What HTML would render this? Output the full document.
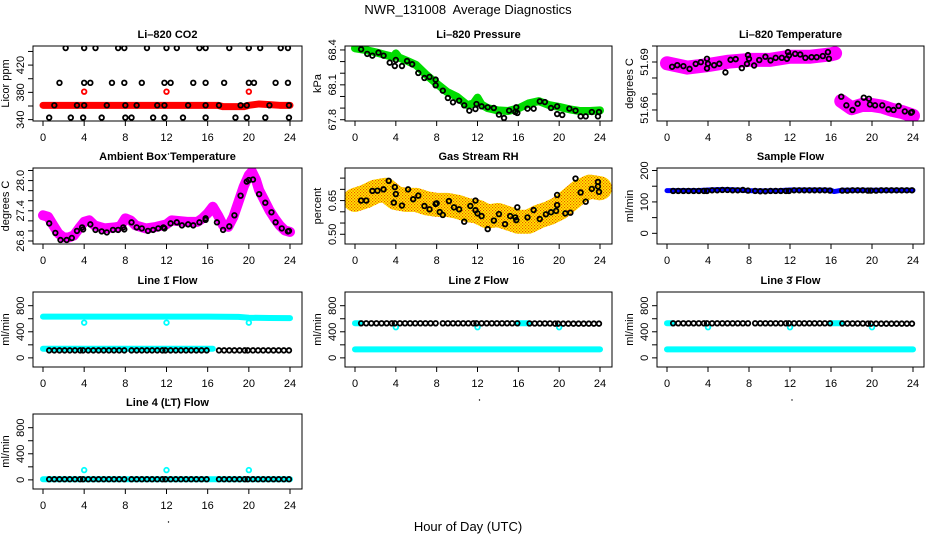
<!DOCTYPE html>
<html><head><meta charset="utf-8"><style>
html,body{margin:0;padding:0;background:#fff}
svg{display:block;font-family:"Liberation Sans",Arial,sans-serif}
</style></head><body>
<svg id="chart" width="936" height="540" viewBox="0 0 936 540" xmlns="http://www.w3.org/2000/svg">
<defs>
<pattern id="rhpat" width="3" height="3" patternUnits="userSpaceOnUse">
<rect width="3" height="3" fill="#ffee00"/>
<rect x="0" y="0" width="1.2" height="1.2" fill="#f05000"/>
<rect x="1.5" y="1.5" width="1.2" height="1.2" fill="#f05000"/>
</pattern>
</defs>
<text x="468" y="14" text-anchor="middle" font-size="13">NWR_131008&#160; Average Diagnostics</text>
<text x="468" y="531" text-anchor="middle" font-size="13">Hour of Day (UTC)</text>
</svg>
<script>
// ---------- data ----------
const hourTicks=[0,4,8,12,16,20,24];
// CO2
const co2BlackT=[2.2,4,5.1,7.3,7.9,10.1,12,13,15.2,15.8,18.1,20,21.1,23.1,23.8, 1.6,4,4.6,6.7,7.9,9.6,11.8,12.4,14.6,15.8,17.6,20,20.5,22.6,23.8, 1.1,3.3,4,6.2,8,9.1,11.1,11.8,14.1,15.8,17.1,19.2,19.8,22,23.9, 0.6,2.7,3.9,5.7,8,8.6,10.7,11.8,13.6,15.8,18.7,19.8,21.6,23.9];
const co2BlackV=[445,445,445,445,445,445,445,445,445,445,445,445,445,445,445, 394,394,394,394,394,394,394,394,394,394,394,394,394,394,394, 361,361,361,361,361,361,361,361,361,361,361,361,361,361,361, 343,343,343,343,343,343,343,343,343,343,343,343,343,343];
const co2RedT=[0,2,4,6,8,10,12,14,16,17,17.5,18.5,19.5,20,21,22,23,24];
const co2RedV=[361,361,361,361,361,361,361,361,361,361,359,359,359,361,363,362,361,361];
const co2RedCircT=[4,12,20];
const co2RedCircV=[381,381,381];
// Pressure
const presGreenT=[0,1,2,3,3.8,4,4.3,5,6,7,8,9,10,11,11.6,12,12.4,13,14,15,16,17,18,19,20,21,22,23,24];
const presGreenV=[68.414,68.40,68.38,68.357,68.34,68.37,68.335,68.31,68.27,68.185,68.11,68.04,67.997,67.926,67.94,67.99,67.93,67.90,67.88,67.875,67.897,67.94,67.96,67.926,67.91,67.89,67.875,67.875,67.88];
const presBlackT=[0.6,1.2,1.7,2.3,2.8,3.4,3.9,4,4.6,5.1,5.6,6.2,6.8,7.3,7.9,7.9,8.6,9.1,9.6,10.2,10.7,11.2,11.8,11.9,12.4,13,13.6,14.1,14.6,15.1,15.7,15.8,15.9,16.9,17.5,18.1,18.6,19.2,19.8,19.8,20.3,21,21.6,22.1,22.6,23.2,23.8,23.9];
const presBlackV=[68.406,68.366,68.351,68.377,68.351,68.291,68.262,68.314,68.262,68.305,68.277,68.202,68.159,68.168,68.145,68.096,68.050,67.987,67.950,67.964,67.924,67.878,67.892,67.935,67.915,67.907,67.901,67.844,67.815,67.878,67.867,67.907,67.858,67.895,67.895,67.958,67.952,67.901,67.849,67.915,67.841,67.895,67.878,67.829,67.829,67.866,67.829,67.866];
// Li-820 temperature
const tempBandT1=[0,2,4,6,8,10,12,14,16,16.4];
const tempBandV1=[51.6892,51.6865,51.6881,51.6902,51.6913,51.6913,51.6933,51.6933,51.6948,51.6954];
const tempBandT2=[17,18,19,20,21,22,23,24];
const tempBandV2=[51.6656,51.6611,51.6631,51.6631,51.6621,51.6600,51.6586,51.6564];
const tempBlackT=[0.5,1,1.6,2.2,2.8,3.3,3.9,3.9,4,4.6,5.1,5.7,6.2,6.7,7.3,7.8,7.9,8,8.5,9,9.6,10.1,10.6,11.2,11.7,11.8,11.9,12.5,13,13.5,14.1,14.6,15.2,15.7,15.8,17,17.5,18.1,18.6,19.2,19.7,19.8,20.3,21,21.6,22.1,22.6,23.2,23.8,23.9];
const tempBlackV=[51.6870,51.6880,51.6874,51.6857,51.6888,51.6899,51.6920,51.6860,51.6889,51.6880,51.6889,51.6835,51.6914,51.6918,51.6862,51.6888,51.6943,51.6920,51.6878,51.6912,51.6933,51.6910,51.6926,51.6926,51.6920,51.6962,51.6941,51.6951,51.6947,51.6926,51.6930,51.6930,51.6937,51.6962,51.6920,51.6683,51.6629,51.6600,51.6639,51.6677,51.6670,51.6635,51.6629,51.6629,51.6604,51.6600,51.6625,51.6591,51.6583,51.6587];
// Ambient box temperature
const ambT=[0,0.5,1,1.5,2,2.5,3,3.5,4,4.5,5,6,7,7.5,8,8.5,9,10,11,12,12.5,13,14,15,15.5,16,16.5,17,17.5,18,18.5,19,19.5,20,20.3,20.7,21,21.5,22,22.5,23,23.5,24];
const ambV=[27.31,27.28,27.11,26.95,26.87,26.87,26.91,27.05,27.18,27.21,27.11,27.05,27.07,27.09,27.25,27.21,27.11,27.05,27.08,27.13,27.21,27.20,27.18,27.18,27.25,27.35,27.48,27.31,27.11,27.08,27.28,27.58,27.88,28.11,28.18,28.01,27.81,27.61,27.41,27.25,27.11,27.01,26.98];
const ambBlackT=[0.6,1.2,1.7,2.3,2.8,3.3,3.8,3.9,4.6,5.1,5.7,6.2,6.8,7.3,7.8,7.9,8.6,9.1,9.6,10.2,10.7,11.2,11.7,11.8,12.4,13,13.5,14.1,14.6,15.2,15.8,15.8,16.9,17.5,18.1,18.6,19.2,19.8,20,20.4,21,21.6,22.2,22.6,23.2,23.8,23.9];
const ambBlackV=[27.15,26.96,26.82,26.82,26.86,27.00,27.07,27.03,27.13,27.02,26.99,26.97,27.02,27.02,27.07,27.03,27.17,27.07,27.05,27.00,27.02,27.05,27.07,27.05,27.15,27.17,27.11,27.13,27.11,27.17,27.25,27.22,27.17,27.02,27.09,27.31,27.70,27.98,28.01,28.02,27.73,27.56,27.37,27.17,27.05,26.99,27.00];
// Gas stream RH
const rhT=[0,1,2,3,4,5,6,7,8,9,10,11,12,13,14,15,16,17,18,19,20,21,22,23,24];
const rhV=[0.653,0.668,0.690,0.698,0.661,0.653,0.653,0.638,0.631,0.631,0.623,0.608,0.601,0.579,0.586,0.571,0.556,0.556,0.579,0.594,0.616,0.653,0.690,0.712,0.705];
const rhBlackT=[0.6,1.1,1.7,2.2,2.8,3.3,3.8,3.9,4,4.6,5.2,5.7,6.2,6.8,7.3,7.9,8,8.3,8.6,9.2,9.7,10.2,10.7,11.3,11.8,11.8,12,12.4,13,13.6,14.1,14.7,15.2,15.7,15.8,15.9,16.9,17.5,18.1,18.7,19.2,19.7,19.8,19.8,20.6,21.1,21.6,22.1,22.6,23.2,23.8,23.9,23.8];
const rhBlackV=[0.650,0.650,0.693,0.694,0.700,0.738,0.641,0.710,0.679,0.628,0.700,0.656,0.672,0.626,0.611,0.635,0.638,0.599,0.586,0.648,0.620,0.611,0.556,0.626,0.650,0.607,0.593,0.581,0.523,0.561,0.590,0.545,0.581,0.575,0.563,0.620,0.575,0.608,0.568,0.589,0.598,0.604,0.675,0.630,0.593,0.596,0.748,0.686,0.645,0.702,0.733,0.689,0.713];
// Sample flow
const sampBlueT=[0,1,2,3,4,5,6,7,8,9,10,11,12,13,14,15,16,16.3,17,18,19,20,21,22,23,24];
const sampBlueV=[136,136,136,136,138,139,139,138,136,135,135,136,138,138,138,138,137,133,137,137,137,137,137,137,137,137];
// Flow panels: shared black sample times
const flowT=[0.6,1.1,1.6,2.1,2.6,3.1,3.6,3.9,4.4,4.9,5.4,5.9,6.4,6.9,7.4,7.9,8.6,9.1,9.6,10.1,10.6,11.1,11.6,11.9,12.4,12.9,13.4,13.9,14.4,14.9,15.4,15.9,17.1,17.6,18.1,18.6,19.1,19.6,19.9,20.4,20.9,21.4,21.9,22.4,22.9,23.4,23.9];
const sampBlackV=[135,135,135,135,135,135,135,135,137,137,138,138,137,137,138,136,135,134,134,135,135,135,135,135,137,137,137,137,137,137,137,136,136,136,137,137,137,136,136,136,137,137,137,137,137,137,137];
const line1BlackV=[115,115,115,115,115,115,115,115,115,115,115,115,115,115,115,115,115,115,115,115,115,115,115,115,115,115,115,115,115,115,115,115,115,115,115,115,115,115,115,115,115,115,115,115,115,115,115];
const line2BlackV=[530,530,530,530,530,530,530,530,530,530,530,530,530,530,530,530,530,530,530,530,530,530,530,530,530,530,530,530,530,530,530,530,528,528,528,528,528,525,525,525,525,525,525,525,525,525,525];
const line3BlackV=[530,530,530,530,530,530,530,530,530,530,530,530,530,530,530,530,530,530,530,530,530,530,530,530,530,530,530,530,530,530,530,530,528,528,528,528,528,525,525,525,525,525,525,525,525,525,525];
const line4BlackV=[10,10,10,10,10,10,10,10,10,10,10,10,10,10,10,10,10,10,10,10,10,10,10,10,10,10,10,10,10,10,10,10,10,10,10,10,10,10,10,10,10,10,10,10,10,10,10];
const line1CyanHiT=[0,4,8,12,16,19,20,22,24];
const line1CyanHiV=[632,632,632,632,632,628,615,612,610];
const line1CyanLoT=[0,4,8,12,16,16.5];
const line1CyanLoV=[140,140,140,140,140,140];
const line23CyanHiT=[0,0.5];
const line23CyanHiV=[530,530];
const line23CyanGapT=[16,17];
const line23CyanGapV=[530,530];
const line23CyanLoT=[0,4,8,12,16,20,24];
const line23CyanLoV=[130,130,130,130,130,130,130];
const line4CyanT=[0,4,8,12,16,20,24];
const line4CyanV=[10,10,10,10,10,10,10];
const cycT=[4,12,20];
const line1CycV=[540,540,540];
const line2CycV=[470,470,470];
const line3CycV=[470,470,470];
const line4CycV=[150,150,150];

// ---------- geometry ----------
const NS='http://www.w3.org/2000/svg';
const svg=document.getElementById('chart');
const boxL=[33,345,657], boxR=[302,612,924];
const x0=[43,355,667], x24=[290,600,913];
const boxT=[46,168,292,414], boxB=[121,244,367,489];
function mk(tag,parent){const e=document.createElementNS(NS,tag);parent.appendChild(e);return e;}

function panel(c,r,name,title,ylab,dom,ticks,labels){
  const g=mk('g',svg);
  
  
  const X=t=>x0[c]+(x24[c]-x0[c])*t/24;
  const Y=v=>boxB[r]-(v-dom[0])/(dom[1]-dom[0])*(boxB[r]-boxT[r]);
  const clipId='clip'+c+r;
  const cp=mk('clipPath',g); cp.setAttribute('id',clipId);
  const cr=mk('rect',cp); cr.setAttribute('x',boxL[c]);cr.setAttribute('y',boxT[r]);cr.setAttribute('width',boxR[c]-boxL[c]);cr.setAttribute('height',boxB[r]-boxT[r]);
  const plot=mk('g',g); plot.setAttribute('clip-path','url(#'+clipId+')');
  
  
  const box=mk('rect',g);
  box.setAttribute('x',boxL[c]);box.setAttribute('y',boxT[r]);box.setAttribute('width',boxR[c]-boxL[c]);box.setAttribute('height',boxB[r]-boxT[r]);
  box.setAttribute('fill','none');box.setAttribute('stroke','#000');box.setAttribute('stroke-width','1');
  
  
  const tt=mk('text',g); tt.textContent=title;
  tt.setAttribute('x',(boxL[c]+boxR[c])/2);tt.setAttribute('y',boxT[r]-8);tt.setAttribute('text-anchor','middle');tt.setAttribute('font-size','11');tt.setAttribute('font-weight','bold');
  
  
  hourTicks.forEach(h=>{
    const l=mk('line',g); l.setAttribute('x1',X(h));l.setAttribute('x2',X(h));l.setAttribute('y1',boxB[r]);l.setAttribute('y2',boxB[r]+5);l.setAttribute('stroke','#000');
    
    
    const t=mk('text',g); t.textContent=h; t.setAttribute('x',X(h));t.setAttribute('y',boxB[r]+20);t.setAttribute('text-anchor','middle');t.setAttribute('font-size','11');
    
    
  });
  const dot=mk('circle',g); dot.setAttribute('cx',(x0[c]+x24[c])/2+2);dot.setAttribute('cy',boxB[r]+33);dot.setAttribute('r','0.7');dot.setAttribute('fill','#000');
  
  
  ticks.forEach(v=>{
    const l=mk('line',g); l.setAttribute('x1',boxL[c]-5);l.setAttribute('x2',boxL[c]);l.setAttribute('y1',Y(v));l.setAttribute('y2',Y(v));l.setAttribute('stroke','#000');
    
    
  });
  labels.forEach(v=>{
    const t=mk('text',g); t.textContent=v;
    const lx=boxL[c]-9, ly=Y(parseFloat(v));
    t.setAttribute('x',lx);t.setAttribute('y',ly);t.setAttribute('text-anchor','middle');t.setAttribute('font-size','11');
    t.setAttribute('transform','rotate(-90 '+lx+' '+ly+')');
    
    
  });
  const yl=mk('text',g); yl.textContent=ylab;
  const yx=boxL[c]-24, yy=(boxT[r]+boxB[r])/2;
  yl.setAttribute('x',yx);yl.setAttribute('y',yy);yl.setAttribute('text-anchor','middle');yl.setAttribute('font-size','11');
  yl.setAttribute('transform','rotate(-90 '+yx+' '+yy+')');
  
  
  return {plot,X,Y,name};
}
function band(p,T,V,color,w){
  const pl=mk('polyline',p.plot);
  pl.setAttribute('points',T.map((t,i)=>p.X(t)+','+p.Y(V[i])).join(' '));
  pl.setAttribute('fill','none');pl.setAttribute('stroke',color);pl.setAttribute('stroke-width',w);
  pl.setAttribute('stroke-linecap','round');pl.setAttribute('stroke-linejoin','round');
  
  
}
function pts(p,T,V,color,r,sw){
  T.forEach((t,i)=>{
    const c=mk('circle',p.plot);
    c.setAttribute('cx',p.X(t));c.setAttribute('cy',p.Y(V[i]));c.setAttribute('r',r);
    c.setAttribute('fill','none');c.setAttribute('stroke',color);c.setAttribute('stroke-width',sw);
    
    
  });
}
const flowTicks=[0,200,400,600,800], flowLabels=['0','400','800'], flowDom=[-140,1010];

let p=panel(0,0,'co2','Li\u2013820 CO2','Licor ppm',[338,448],[340,360,380,400,420,440],['340','380','420']);
band(p,co2RedT,co2RedV,'#ff0000',7);
pts(p,co2RedCircT,co2RedCircV,'#ff0000',2.3,1.8);
pts(p,co2BlackT,co2BlackV,'#000',2.3,1.8);

p=panel(1,0,'pressure','Li\u2013820 Pressure','kPa',[67.789,68.434],[67.8,67.9,68.0,68.1,68.2,68.3,68.4],['67.8','68.1','68.4']);
band(p,presGreenT,presGreenV,'#00dd00',8);
pts(p,presBlackT,presBlackV,'#000',2.3,1.8);

p=panel(2,0,'li820-temperature','Li\u2013820 Temperature','degrees C',[51.6531,51.700],[51.66,51.67,51.68,51.69,51.70],['51.66','51.69']);
band(p,tempBandT1,tempBandV1,'#ff00ff',14);
band(p,tempBandT2,tempBandV2,'#ff00ff',14);
pts(p,tempBlackT,tempBlackV,'#000',2.3,1.8);

p=panel(0,1,'ambient-temperature','Ambient Box Temperature','degrees C',[26.74,28.25],[26.8,27.0,27.2,27.4,27.6,27.8,28.0,28.2],['26.8','27.4','28.0']);
band(p,ambT,ambV,'#ff00ff',10);
pts(p,ambBlackT,ambBlackV,'#000',2.3,1.8);

p=panel(1,1,'gas-rh','Gas Stream RH','percent',[0.4567,0.795],[0.50,0.55,0.60,0.65,0.70,0.75],['0.50','0.65']);
band(p,rhT,rhV,'url(#rhpat)',24);
pts(p,rhBlackT,rhBlackV,'#000',2.3,1.8);

p=panel(2,1,'sample-flow','Sample Flow','ml/min',[-34,208],[0,50,100,150,200],['0','100','200']);
band(p,sampBlueT,sampBlueV,'#0000ff',5);
pts(p,flowT,sampBlackV,'#000',2.3,1.8);

p=panel(0,2,'line1-flow','Line 1 Flow','ml/min',flowDom,flowTicks,flowLabels);
band(p,line1CyanHiT,line1CyanHiV,'#00ffff',6);
band(p,line1CyanLoT,line1CyanLoV,'#00ffff',6);
pts(p,cycT,line1CycV,'#00ffff',2.3,1.8);
pts(p,flowT,line1BlackV,'#000',2.3,1.8);

p=panel(1,2,'line2-flow','Line 2 Flow','ml/min',flowDom,flowTicks,flowLabels);
band(p,line23CyanHiT,line23CyanHiV,'#00ffff',6);
band(p,line23CyanGapT,line23CyanGapV,'#00ffff',6);
band(p,line23CyanLoT,line23CyanLoV,'#00ffff',6);
pts(p,cycT,line2CycV,'#00ffff',2.3,1.8);
pts(p,flowT,line2BlackV,'#000',2.3,1.8);

p=panel(2,2,'line3-flow','Line 3 Flow','ml/min',flowDom,flowTicks,flowLabels);
band(p,line23CyanHiT,line23CyanHiV,'#00ffff',6);
band(p,line23CyanGapT,line23CyanGapV,'#00ffff',6);
band(p,line23CyanLoT,line23CyanLoV,'#00ffff',6);
pts(p,cycT,line3CycV,'#00ffff',2.3,1.8);
pts(p,flowT,line3BlackV,'#000',2.3,1.8);

p=panel(0,3,'line4-flow','Line 4 (LT) Flow','ml/min',flowDom,flowTicks,flowLabels);
band(p,line4CyanT,line4CyanV,'#00ffff',6);
pts(p,cycT,line4CycV,'#00ffff',2.3,1.8);
pts(p,flowT,line4BlackV,'#000',2.3,1.8);
</script>
</body></html>
